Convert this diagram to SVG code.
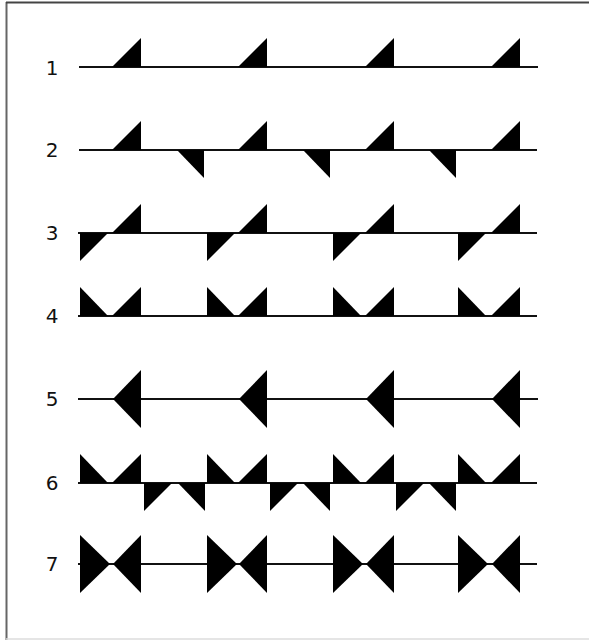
<svg xmlns="http://www.w3.org/2000/svg" xmlns:xlink="http://www.w3.org/1999/xlink" width="589" height="640" viewBox="0 0 589 640">
<style>
.ln{stroke:#111;stroke-width:2;fill:none}
.lbl{font-family:"DejaVu Sans",sans-serif;font-size:20px;fill:#111;text-anchor:middle}
.t{fill:#000}
</style>
<defs>
<polygon id="upR" class="t" points="0,0 0,-29 -29,0"/>
<polygon id="upL" class="t" points="0,0 0,-29 28,0"/>
<polygon id="dnR" class="t" points="0,0 0,28 -27,0"/>
<polygon id="dnL" class="t" points="0,0 0,28 28,0"/>
<polygon id="ptL" class="t" points="0,-29 0,29 -28,0"/>
<polygon id="ptR" class="t" points="0,-29 0,29 30,0"/>
</defs>
<rect x="0" y="0" width="589" height="640" fill="#fff"/>
<line x1="6.5" y1="2" x2="6.5" y2="640" stroke="#666" stroke-width="2"/>
<line x1="6" y1="2.5" x2="589" y2="2.5" stroke="#444" stroke-width="2"/>
<line x1="6" y1="639" x2="589" y2="639" stroke="#ddd" stroke-width="1.5"/>

<g id="row1">
<line class="ln" x1="79" y1="67" x2="538" y2="67"/>
<use xlink:href="#upR" x="141" y="67"/><use xlink:href="#upR" x="267" y="67"/><use xlink:href="#upR" x="394" y="67"/><use xlink:href="#upR" x="520" y="67"/>
<text class="lbl" x="52" y="75">1</text>
</g>
<g id="row2">
<line class="ln" x1="79" y1="150" x2="537" y2="150"/>
<use xlink:href="#upR" x="141" y="150"/><use xlink:href="#upR" x="267" y="150"/><use xlink:href="#upR" x="394" y="150"/><use xlink:href="#upR" x="520" y="150"/>
<use xlink:href="#dnR" x="204" y="150"/><use xlink:href="#dnR" x="330" y="150"/><use xlink:href="#dnR" x="456" y="150"/>
<text class="lbl" x="52" y="157">2</text>
</g>
<g id="row3">
<line class="ln" x1="78" y1="233" x2="537" y2="233"/>
<use xlink:href="#upR" x="141" y="233"/><use xlink:href="#upR" x="267" y="233"/><use xlink:href="#upR" x="394" y="233"/><use xlink:href="#upR" x="520" y="233"/>
<use xlink:href="#dnL" x="80" y="233"/><use xlink:href="#dnL" x="207" y="233"/><use xlink:href="#dnL" x="333" y="233"/><use xlink:href="#dnL" x="458" y="233"/>
<text class="lbl" x="52" y="240">3</text>
</g>
<g id="row4">
<line class="ln" x1="78" y1="316" x2="537" y2="316"/>
<use xlink:href="#upL" x="80" y="316"/><use xlink:href="#upL" x="207" y="316"/><use xlink:href="#upL" x="333" y="316"/><use xlink:href="#upL" x="458" y="316"/>
<use xlink:href="#upR" x="141" y="316"/><use xlink:href="#upR" x="267" y="316"/><use xlink:href="#upR" x="394" y="316"/><use xlink:href="#upR" x="520" y="316"/>
<text class="lbl" x="52" y="323">4</text>
</g>
<g id="row5">
<line class="ln" x1="78" y1="399" x2="538" y2="399"/>
<use xlink:href="#ptL" x="141" y="399"/><use xlink:href="#ptL" x="267" y="399"/><use xlink:href="#ptL" x="394" y="399"/><use xlink:href="#ptL" x="520" y="399"/>
<text class="lbl" x="52" y="406">5</text>
</g>
<g id="row6">
<line class="ln" x1="78" y1="483" x2="537" y2="483"/>
<use xlink:href="#upL" x="80" y="483"/><use xlink:href="#upL" x="207" y="483"/><use xlink:href="#upL" x="333" y="483"/><use xlink:href="#upL" x="458" y="483"/>
<use xlink:href="#upR" x="141" y="483"/><use xlink:href="#upR" x="267" y="483"/><use xlink:href="#upR" x="394" y="483"/><use xlink:href="#upR" x="520" y="483"/>
<use xlink:href="#dnL" x="144" y="483"/><use xlink:href="#dnL" x="270" y="483"/><use xlink:href="#dnL" x="396" y="483"/>
<use xlink:href="#dnR" x="205" y="483"/><use xlink:href="#dnR" x="330" y="483"/><use xlink:href="#dnR" x="456" y="483"/>
<text class="lbl" x="52" y="490">6</text>
</g>
<g id="row7">
<line class="ln" x1="78" y1="564" x2="537" y2="564"/>
<use xlink:href="#ptR" x="80" y="564"/><use xlink:href="#ptR" x="207" y="564"/><use xlink:href="#ptR" x="333" y="564"/><use xlink:href="#ptR" x="458" y="564"/>
<use xlink:href="#ptL" x="141" y="564"/><use xlink:href="#ptL" x="267" y="564"/><use xlink:href="#ptL" x="394" y="564"/><use xlink:href="#ptL" x="520" y="564"/>
<text class="lbl" x="52" y="571">7</text>
</g>
</svg>
